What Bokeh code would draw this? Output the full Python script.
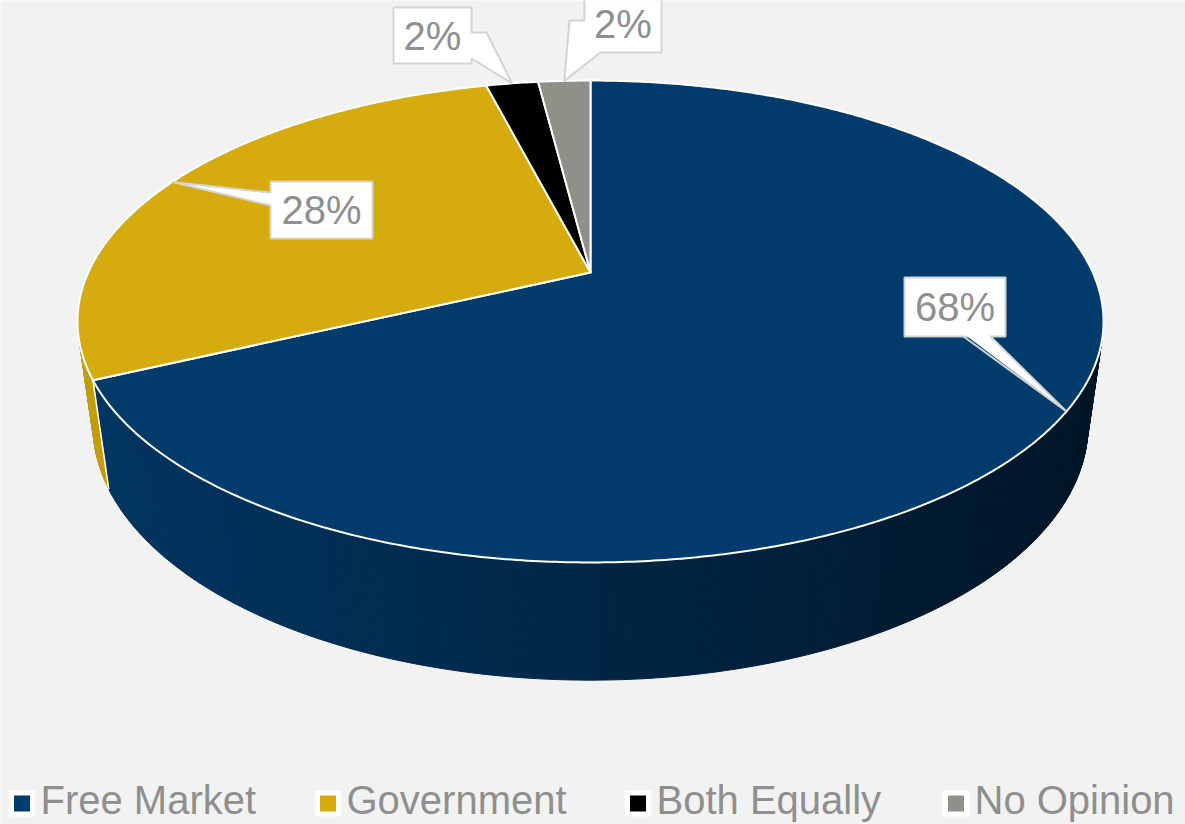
import numpy as np
from bokeh.plotting import figure
from bokeh.models import Range1d
from bokeh.core.properties import value
from bokeh.embed import file_html
from bokeh.resources import INLINE

# ---------------- data ----------------
categories = ["Free Market", "Government", "Both Equally", "No Opinion"]
shares = [68, 28, 2, 2]
colors = ["#003B6B", "#D6AB0E", "#000000", "#8F9088"]

# ---------------- layout ----------------
BG = "#F2F2F2"
FONT = "Liberation Sans"
TXT = "#8F8F8F"
BOX_LINE = "#D4D4D4"
# perspective projection of the pie (screen px)
X0, Y0 = 590.0, 272.0
A, B, E = 502.3, 231.0, 106.0
K, M = 0.2033, -0.03

# label callout boxes (x0, y0, x1, y1) and pointer paths (before tip / after tip)
label_boxes = [(904, 277, 1005, 336), (270, 181, 372, 238), (393, 7, 471, 63), (584, -5, 661, 52)]
ptr_pre = [[(963, 336)], [(270, 192)], [(471, 32), (486, 32)], [(584, 20), (569, 20)]]
ptr_post = [[(990, 336)], [(270, 205)], [(471, 58)], [(600, 52)]]

legend_txt_x = [40, 346, 656, 974]
legend_sq_x = [21.5, 327.5, 637.5, 955.5]
legend_sq_y = 803
legend_txt_y = 799


def proj(theta_deg, z):
    t = np.radians(theta_deg)
    u, v = np.cos(t), np.sin(t)
    w = 1 + K * v + M * z
    x = X0 + A * u / w
    y = Y0 + (-B * v - E * z) / w
    return x, y


def hex2rgb(h):
    h = h.lstrip("#")
    return np.array([int(h[i:i + 2], 16) for i in (0, 2, 4)], dtype=float)


def rgb2hex(c):
    c = np.clip(np.round(c), 0, 255).astype(int)
    return "#%02x%02x%02x" % tuple(c)


def area(xs, ys):
    xs = np.asarray(xs); ys = np.asarray(ys)
    return 0.5 * np.sum(xs * np.roll(ys, -1) - np.roll(xs, -1) * ys)


p = figure(width=1185, height=824, x_range=Range1d(0, 1185), y_range=Range1d(824, 0),
           output_backend="svg", toolbar_location=None, min_border=0,
           background_fill_color=BG, border_fill_color=BG, outline_line_color=None)
p.axis.visible = False
p.grid.visible = False

total = float(sum(shares))
cum = np.concatenate([[0.0], np.cumsum(shares)]) / total
starts = 90 - 360 * cum[:-1]
ends = 90 - 360 * cum[1:]


def quad(t1, t2):
    x1t, y1t = proj(t1, 0); x2t, y2t = proj(t2, 0)
    x2b, y2b = proj(t2, -1); x1b, y1b = proj(t1, -1)
    return [x1t, x2t, x2b, x1b], [y1t, y2t, y2b, y1b]

ref_sign = np.sign(area(*quad(-89, -91)))

# ---------------- side walls ----------------
side_xs, side_ys, side_cols = [], [], []
for s, e, col in zip(starts, ends, colors):
    n = max(2, int(abs(s - e) * 2) + 1)
    th = np.linspace(s, e, n)
    base = hex2rgb(col)
    for t1, t2 in zip(th[:-1], th[1:]):
        qx, qy = quad(t1, t2)
        if np.sign(area(qx, qy)) != ref_sign:
            continue
        xm = np.mean(qx)
        f = np.clip(0.92 - 0.56 * (xm - 80) / 1020, 0.3, 1.0)
        side_xs.append(qx); side_ys.append(qy); side_cols.append(rgb2hex(base * f))

p.patches(side_xs, side_ys, fill_color=side_cols, line_color=side_cols, line_width=1)

# white vertical edges at visible slice boundaries
for s in starts:
    qx, qy = quad(s + 0.3, s - 0.3)
    if np.sign(area(qx, qy)) == ref_sign:
        xt, yt = proj(s, 0); xb, yb = proj(s, -1)
        p.line([xt, xb], [yt, yb], line_color="white", line_width=1.5)

# ---------------- top faces ----------------
top_xs, top_ys = [], []
for s, e in zip(starts, ends):
    n = max(3, int(abs(s - e) * 2) + 1)
    th = np.linspace(s, e, n)
    ax, ay = proj(th, 0)
    top_xs.append([X0] + list(ax)); top_ys.append([Y0] + list(ay))
p.patches(top_xs, top_ys, fill_color=colors, line_color="white", line_width=2,
          line_join="round")

# ---------------- data labels ----------------
mids = (starts + ends) / 2
for i, sh in enumerate(shares):
    bx0, by0, bx1, by1 = label_boxes[i]
    cx, cy = (bx0 + bx1) / 2, (by0 + by1) / 2
    tipx, tipy = proj(mids[i], 0)
    p.quad(left=bx0, right=bx1, top=by0, bottom=by1, fill_color="white",
           line_color=BOX_LINE, line_width=2)
    path = ptr_pre[i] + [(float(tipx), float(tipy))] + ptr_post[i]
    fill_pts = []
    for k, (px, py) in enumerate(path):
        if k == 0 or k == len(path) - 1:
            d = np.hypot(cx - px, cy - py)
            px, py = px + 4 * (cx - px) / d, py + 4 * (cy - py) / d
        fill_pts.append((px, py))
    p.patch([q[0] for q in fill_pts], [q[1] for q in fill_pts], fill_color="white",
            line_color=None)
    p.line([q[0] for q in path], [q[1] for q in path], line_color=BOX_LINE, line_width=2)
    p.text(x=[cx], y=[cy], text=[f"{sh}%"], text_font=value(FONT),
           text_font_size="40px", text_color=TXT, text_align="center",
           text_baseline="middle")

# ---------------- legend ----------------
p.scatter(x=legend_sq_x, y=[legend_sq_y] * 4, marker="square", size=26,
          fill_color="white", line_color=None)
p.scatter(x=legend_sq_x, y=[legend_sq_y] * 4, marker="square", size=16,
          fill_color=colors, line_color=None)
p.text(x=legend_txt_x, y=[legend_txt_y] * 4, text=categories, text_font=value(FONT),
       text_font_size="40px", text_color=TXT, text_align="left",
       text_baseline="middle")

html = file_html(p, INLINE)
open("out.html", "w").write(html)
